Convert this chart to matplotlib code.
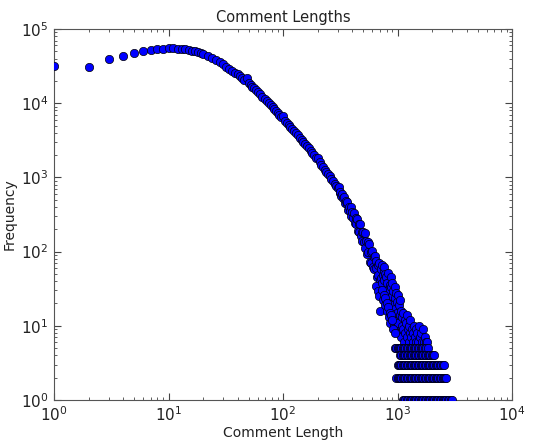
import numpy as np
import matplotlib
matplotlib.use("Agg")
import matplotlib.pyplot as plt

# short comments: one point per length
lens_short = [1, 2, 3, 4, 5, 6, 7, 8, 9, 10, 11, 12, 13, 14, 15, 16, 17, 18, 19, 20]
freq_short = [31500, 30500, 39500, 43000, 47500, 50500, 52000, 53500, 54500, 55000,
              54800, 54500, 54000, 53300, 52300, 51300, 50200, 49000, 47800, 46500]

lens_mid = [22, 24, 26, 28, 30, 32, 34, 36, 38, 40, 42, 44, 46, 48, 50, 52, 54, 56, 58, 60,
            63, 66, 69, 72, 75, 78, 81, 84, 87, 90, 93, 96, 100]
freq_mid = [43700, 41100, 38500, 35700, 33400, 31200, 29300, 27400, 25800, 24400,
            23000, 21800, 20600, 21800, 18700, 17600, 16700, 15800, 15000, 14200,
            13200, 12200, 11400, 10700, 10000, 9400, 8800, 8300, 7800, 7400,
            7000, 6600, 6700]

lens_long = [104, 108, 112, 116, 120, 125, 130, 135, 140, 145, 150, 156, 162, 168, 174,
             180, 187, 194, 201, 208, 215, 223, 231, 239, 247, 255, 264, 273, 282, 291, 300]
freq_long = [5770, 5420, 5100, 4800, 4530, 4220, 3940, 3680, 3440, 3240, 3040, 2840,
             2630, 2455, 2280, 2140, 1980, 1840, 1850, 1590, 1490, 1380, 1275, 1190,
             1110, 1030, 953, 885, 822, 763, 713]

lens_tail = [305, 311, 317, 323, 329, 335, 341, 347, 353, 359, 365, 371, 377, 383, 389,
             395, 401, 408, 415, 422, 429, 436, 443, 450, 457, 464, 471, 478, 485, 492,
             500, 508, 516, 524, 532, 540, 548, 556, 564, 572, 580, 589, 598, 607,
             616, 625, 634, 643, 652, 661, 670, 680, 690, 700, 705]
freq_tail = [736, 625, 641, 556, 592, 525, 547, 455, 485, 432, 463, 369, 405, 353, 396,
             301, 339, 285, 333, 240, 281, 237, 277, 191, 233, 185, 232, 161, 184, 137,
             183, 134, 177, 111, 137, 94, 133, 98, 128, 73, 100, 71, 103, 62,
             84, 58, 88, 60, 74, 45, 66, 48, 70, 42, 16]

# sparse region, where counts spread widely
lens_sparse = [645, 668, 690, 712, 719, 726, 733, 740, 747, 754, 761, 768, 775, 782, 789,
               796, 804, 812, 820, 828, 836, 844, 852, 860, 868, 876, 884, 892,
               900, 908, 916, 924, 932, 940, 948, 956, 964, 972, 980, 988, 996,
               1005, 1015, 1025, 1035, 1045, 1055, 1065, 1075, 1085, 1095,
               1110, 1125, 1140, 1155, 1170, 1185, 1200, 1215, 1230, 1245, 1260, 1275, 1290,
               1310, 1330, 1350, 1370, 1390, 1410, 1435, 1460, 1485, 1510, 1535, 1560,
               1590, 1620, 1650, 1690, 1730, 1770, 1810,
               735, 758, 780, 803, 826, 850, 873, 896, 920, 944]
freq_sparse = [34, 29, 25, 44, 58, 38, 66, 48, 22, 55, 42, 62, 19, 50, 28,
               45, 38, 16, 52, 30, 13, 22, 36, 11, 46, 19, 33, 25,
               38, 14, 29, 20, 10, 33, 17, 24, 12, 28, 9, 21, 15,
               26, 11, 19, 8, 14, 22, 7, 16, 10, 13,
               9, 15, 6, 12, 8, 11, 7, 14, 9, 6, 10, 8, 12,
               7, 9, 6, 8, 10, 7, 6, 9, 8, 6, 10, 7,
               8, 6, 9, 6, 7, 6, 6,
               30, 26, 24, 20, 18, 15, 14, 12, 9, 8]

# lengths seen only a handful of times: counts 5..1 run along these lengths
grid_lens = [950, 975, 1000, 1025, 1050, 1080, 1110, 1140, 1170, 1200, 1235, 1270,
             1305, 1340, 1380, 1420, 1460, 1500, 1545, 1590, 1635, 1680, 1730, 1780,
             1830, 1880, 1930, 1985, 2040, 2090, 2150, 2210, 2270, 2330, 2400, 2470,
             2540, 2600, 2670, 2740, 2820, 2900, 2990]
band_counts = [5, 4, 3, 2, 1]
band_lo = [950, 1050, 1000, 975, 1110]
band_hi = [1830, 2090, 2540, 2670, 2990]

lengths = lens_short + lens_mid + lens_long + lens_tail + lens_sparse
freqs = freq_short + freq_mid + freq_long + freq_tail + freq_sparse
for c, lo, hi in zip(band_counts, band_lo, band_hi):
    ls = [g for g in grid_lens if lo <= g <= hi]
    lengths += ls
    freqs += [c] * len(ls)

fig = plt.figure(figsize=(5.46, 4.4), dpi=100)
ax = fig.add_axes([0.099, 0.091, 0.839, 0.843])
ax.scatter(lengths, freqs, s=36, c="#0000ff", edgecolors="black", linewidths=0.5, zorder=3)
ax.set_xscale("log")
ax.set_yscale("log")
ax.set_xlim(1, 1e4)
ax.set_ylim(1, 1e5)
ax.set_title("Comment Lengths", fontsize=10.5, color="#222222", pad=5)
ax.set_xlabel("Comment Length", fontsize=10, color="#222222", labelpad=1)
ax.set_ylabel("Frequency", fontsize=10, color="#222222", labelpad=3)
ax.tick_params(which="both", direction="in", top=True, right=True, colors="#444444",
               labelcolor="#222222", labelsize=11)
ax.tick_params(which="major", length=5)
ax.tick_params(which="minor", length=2.5)
ax.tick_params(axis="x", which="major", pad=4)
ax.tick_params(axis="y", which="major", pad=4)
for sp in ax.spines.values():
    sp.set_color("#555555")

fig.savefig("out.png", dpi=100)
